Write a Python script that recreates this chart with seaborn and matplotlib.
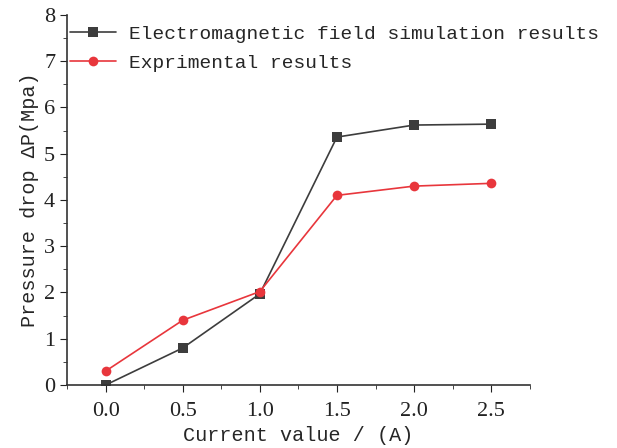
import numpy as np
import pandas as pd
import matplotlib
matplotlib.use('Agg')
import matplotlib.pyplot as plt
from matplotlib.ticker import MultipleLocator
import seaborn as sns

# Data
current = [0.0, 0.5, 1.0, 1.5, 2.0, 2.5]
simulation = [0.0, 0.8, 1.97, 5.36, 5.62, 5.64]
experiment = [0.3, 1.4, 2.02, 4.1, 4.3, 4.36]
series_names = ['Electromagnetic field simulation results', 'Exprimental results']
series_colors = ['#3d3d3d', '#e8363c']

df = pd.DataFrame({
    'current': current * 2,
    'dp': simulation + experiment,
    'series': [series_names[0]] * len(current) + [series_names[1]] * len(current),
})

sns.set_style('ticks')
plt.rcParams['font.family'] = ['Liberation Mono', 'DejaVu Sans Mono']
plt.rcParams['xtick.major.size'] = 5
plt.rcParams['ytick.major.size'] = 5
plt.rcParams['xtick.minor.size'] = 3
plt.rcParams['ytick.minor.size'] = 3

fig = plt.figure(figsize=(6.17, 4.48), dpi=100)
ax = fig.add_axes([0.1086, 0.1406, 0.75, 0.826])

sns.lineplot(data=df, x='current', y='dp', hue='series', style='series',
             palette=dict(zip(series_names, series_colors)),
             markers={series_names[0]: 's', series_names[1]: 'o'},
             dashes=False, markersize=7, markeredgewidth=0, linewidth=1.2, ax=ax)

ax.set_xlim(-0.25, 2.75)
ax.set_ylim(0, 8)
ax.xaxis.set_major_locator(MultipleLocator(0.5))
ax.xaxis.set_minor_locator(MultipleLocator(0.25))
ax.yaxis.set_major_locator(MultipleLocator(1))
ax.yaxis.set_minor_locator(MultipleLocator(0.5))
ax.set_xticks(current)
ax.set_xticklabels([f'{v:.1f}' for v in current])
ax.tick_params(labelsize=16, colors='#222222')
ax.tick_params(axis='x', pad=7)
for lbl in ax.get_xticklabels() + ax.get_yticklabels():
    lbl.set_family('Liberation Serif')
for s in ['top', 'right']:
    ax.spines[s].set_visible(False)
for s in ['left', 'bottom']:
    ax.spines[s].set_color('#333333')
    ax.spines[s].set_linewidth(1.2)

ax.set_xlabel('Current value / (A)', fontsize=14.5, labelpad=4)
ax.set_ylabel('Pressure drop ΔP(Mpa)', fontsize=14.5, labelpad=4)

handles, labels = ax.get_legend_handles_labels()
ax.legend(handles, labels, loc='upper left', bbox_to_anchor=(0.006, 0.972),
          frameon=False, fontsize=14, handlelength=2.4, handletextpad=0.65,
          labelspacing=0.6, borderaxespad=0, borderpad=0)

fig.savefig('out.png', dpi=100)
